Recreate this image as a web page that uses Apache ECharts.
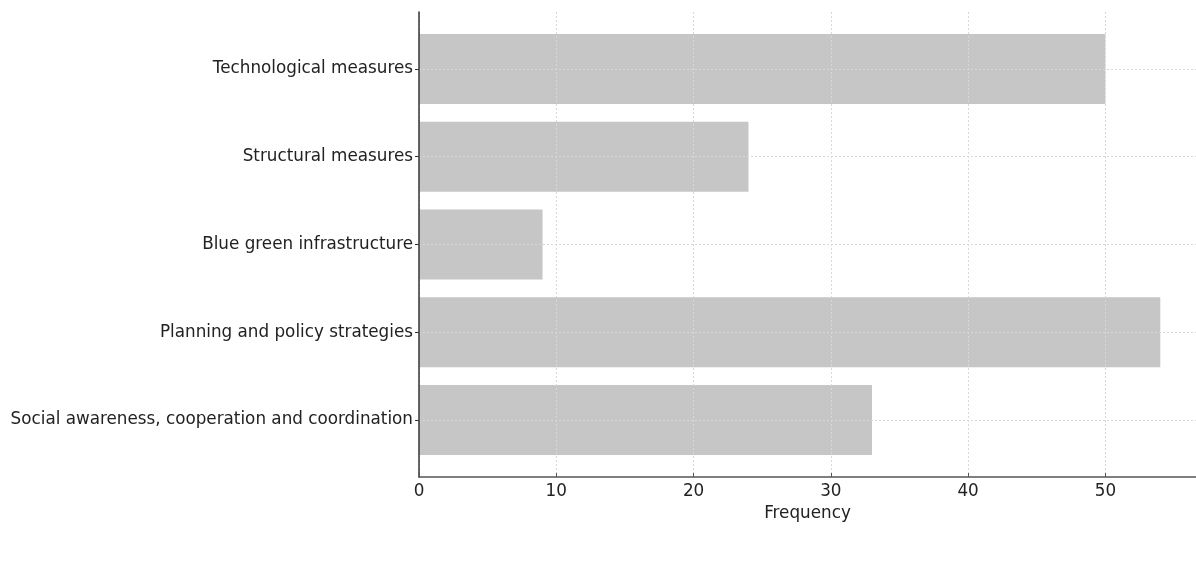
<!DOCTYPE html>
<html><head><meta charset="utf-8">
<script src="https://cdn.jsdelivr.net/npm/echarts@6/dist/echarts.min.js"></script>
<style>html,body{margin:0;padding:0;background:#fff}#c{width:1196px;height:585px}</style>
</head><body><div id="c"></div>
<script>
const categories = ["Technological measures","Structural measures","Blue green infrastructure","Planning and policy strategies","Social awareness, cooperation and coordination"];
const frequency = [50, 24, 9, 54, 33];
const xTicks = [0, 10, 20, 30, 40, 50];
const xMax = 56.6;
const font = "DejaVu Sans";
const fs = 16.8;
const chart = echarts.init(document.getElementById('c'), null, {renderer:'canvas'});
chart.setOption({
  animation:false,
  grid:[
    {left:419, right:0, top:25, bottom:121},
    {left:419, right:0, top:12, bottom:108}
  ],
  xAxis:[
    {gridIndex:0, type:'value', min:0, max:xMax, show:false},
    {gridIndex:1, type:'value', min:0, max:xMax, interval:10, z:5,
     name:'Frequency', nameLocation:'middle', nameGap:26,
     nameTextStyle:{fontFamily:font, fontSize:fs, color:'#222'},
     axisLine:{show:true, lineStyle:{color:'#555', width:1.5}},
     axisTick:{show:true, inside:true, length:4, customValues:xTicks, lineStyle:{color:'#555'}},
     axisLabel:{fontFamily:font, fontSize:fs, color:'#222', margin:6, customValues:xTicks},
     splitLine:{show:true, lineStyle:{color:'#d8d8d8', type:[2,2], width:1}}
    }
  ],
  yAxis:[
    {gridIndex:0, type:'category', data:categories, inverse:true, z:5,
     axisLine:{show:false},
     axisTick:{show:true, alignWithLabel:true, length:4, lineStyle:{color:'#333'}},
     axisLabel:{fontFamily:font, fontSize:fs, color:'#222', margin:6},
     splitLine:{show:true, alignWithLabel:true, lineStyle:{color:'#d8d8d8', type:[2,2], width:1}}
    },
    {gridIndex:1, type:'value', min:0, max:1, z:5,
     axisLine:{show:true, lineStyle:{color:'#333', width:1.5}},
     axisTick:{show:false}, axisLabel:{show:false}, splitLine:{show:false}
    }
  ],
  series:[{
    type:'bar', xAxisIndex:0, yAxisIndex:0, data:frequency,
    barWidth:70, itemStyle:{color:'#c6c6c6'}, z:2
  }]
});
</script></body></html>
